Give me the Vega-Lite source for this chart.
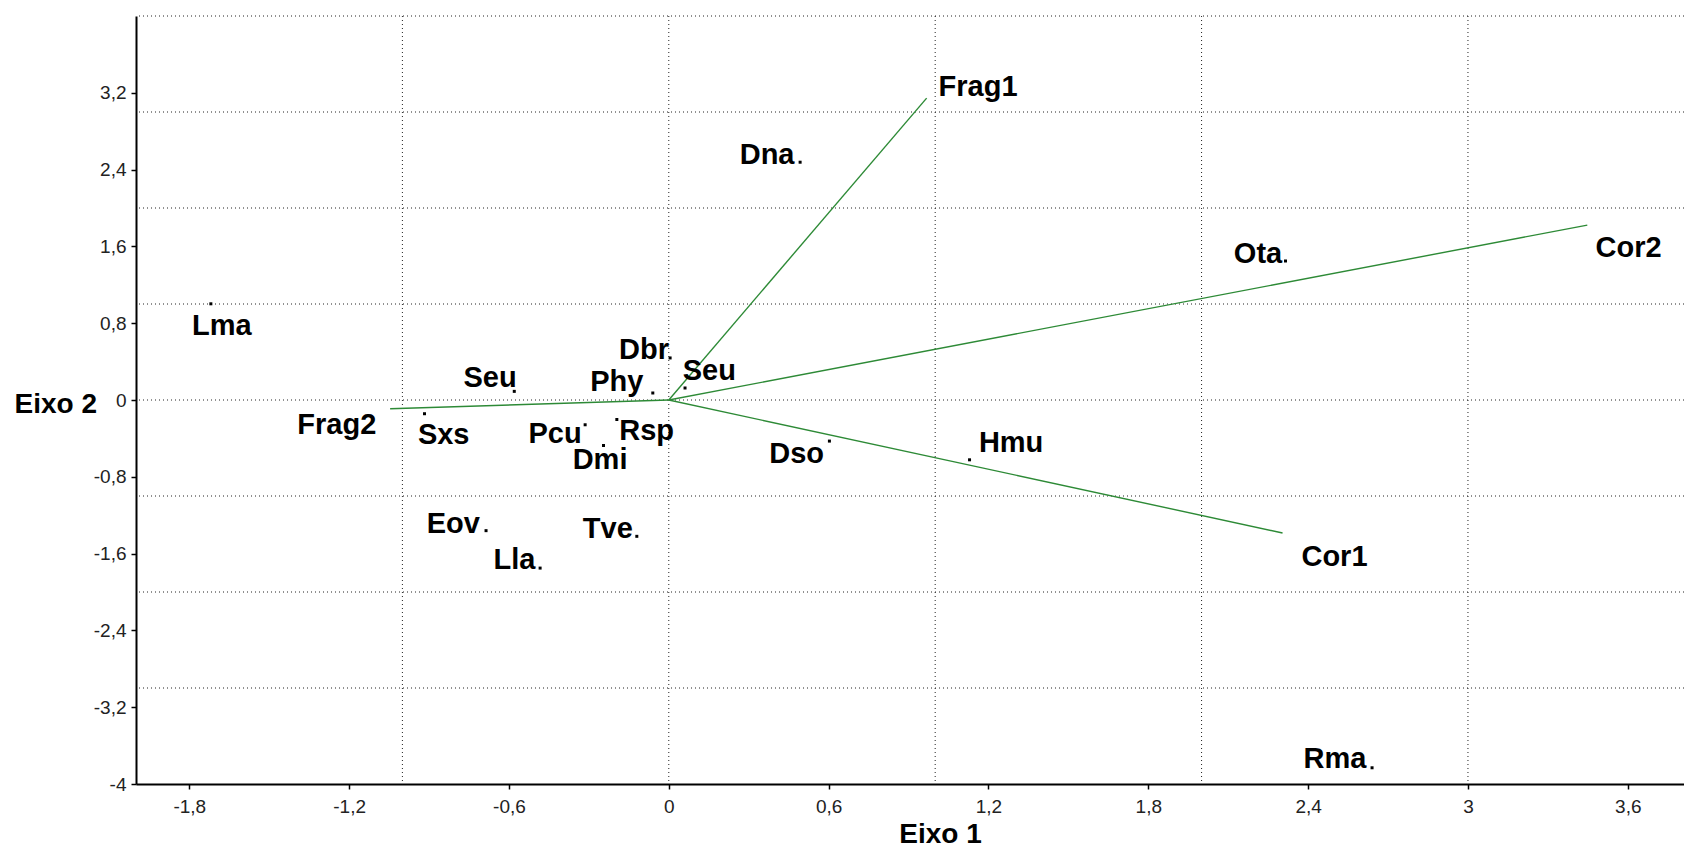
{
  "$schema": "https://vega.github.io/schema/vega-lite/v6.json",
  "width": 1548,
  "height": 768,
  "autosize": "none",
  "padding": {"left": 136, "top": 16, "right": 0, "bottom": 66},
  "background": "white",
  "config": {
    "view": {"stroke": null},
    "font": "Liberation Sans",
    "axisX": {
      "domainColor": "#000", "domainWidth": 2, "tickColor": "#000", "tickSize": 5, "tickWidth": 1.5,
      "labelFont": "Liberation Sans", "labelFontSize": 19, "labelColor": "#222", "labelPadding": 8,
      "labelFlush": false, "labelOverlap": false, "grid": false,
      "titleFont": "Liberation Sans", "titleFontSize": 28, "titleFontWeight": "bold", "titleColor": "#000",
      "titleX": 804, "titleY": 58, "titleAlign": "center", "titleBaseline": "alphabetic"
    },
    "axisY": {
      "domainColor": "#000", "domainWidth": 2, "tickColor": "#000", "tickSize": 5, "tickWidth": 1.5,
      "labelFont": "Liberation Sans", "labelFontSize": 19, "labelColor": "#222", "labelPadding": 5,
      "labelFlush": false, "labelOverlap": false, "grid": false,
      "titleFont": "Liberation Sans", "titleFontSize": 28, "titleFontWeight": "bold", "titleColor": "#000",
      "titleAngle": 0, "titleX": -122, "titleY": 396, "titleAlign": "left", "titleBaseline": "alphabetic"
    }
  },
  "datasets": {
    "grid_h": [{"y": -3}, {"y": -2}, {"y": -1}, {"y": 0}, {"y": 1}, {"y": 2}, {"y": 3}, {"y": 4}],
    "grid_v": [{"x": -1}, {"x": 0}, {"x": 1}, {"x": 2}, {"x": 3}],
    "vectors": [
      {"name": "Frag1", "x0": 0, "y0": 0, "x": 0.968, "y": 3.145, "lx": 1.161, "ly": 3.284},
      {"name": "Frag2", "x0": 0, "y0": 0, "x": -1.046, "y": -0.091, "lx": -1.246, "ly": -0.237},
      {"name": "Cor1", "x0": 0, "y0": 0, "x": 2.304, "y": -1.385, "lx": 2.499, "ly": -1.613},
      {"name": "Cor2", "x0": 0, "y0": 0, "x": 3.448, "y": 1.822, "lx": 3.603, "ly": 1.605}
    ],
    "species": [
      {"name": "Lma", "x": -1.719, "y": 1.002, "lx": -1.678, "ly": 0.796},
      {"name": "Seu", "x": -0.580, "y": 0.090, "lx": -0.671, "ly": 0.251},
      {"name": "Sxs", "x": -0.917, "y": -0.143, "lx": -0.845, "ly": -0.341},
      {"name": "Pcu", "x": -0.314, "y": -0.258, "lx": -0.427, "ly": -0.334},
      {"name": "Rsp", "x": -0.195, "y": -0.203, "lx": -0.083, "ly": -0.307},
      {"name": "Dmi", "x": -0.245, "y": -0.474, "lx": -0.258, "ly": -0.605},
      {"name": "Phy", "x": -0.060, "y": 0.073, "lx": -0.195, "ly": 0.205},
      {"name": "Dbr", "x": 0.005, "y": 0.438, "lx": -0.093, "ly": 0.543},
      {"name": "Seu", "x": 0.061, "y": 0.125, "lx": 0.152, "ly": 0.319},
      {"name": "Eov", "x": -0.686, "y": -1.361, "lx": -0.809, "ly": -1.273},
      {"name": "Tve", "x": -0.120, "y": -1.420, "lx": -0.229, "ly": -1.319},
      {"name": "Lla", "x": -0.483, "y": -1.751, "lx": -0.579, "ly": -1.651},
      {"name": "Dna", "x": 0.493, "y": 2.477, "lx": 0.369, "ly": 2.578},
      {"name": "Ota", "x": 2.315, "y": 1.448, "lx": 2.212, "ly": 1.537},
      {"name": "Dso", "x": 0.603, "y": -0.428, "lx": 0.480, "ly": -0.537},
      {"name": "Hmu", "x": 1.129, "y": -0.623, "lx": 1.285, "ly": -0.432},
      {"name": "Rma", "x": 2.640, "y": -3.831, "lx": 2.501, "ly": -3.723}
    ]
  },
  "layer": [
    {
      "data": {"name": "grid_h"},
      "mark": {"type": "rule", "color": "#222", "strokeWidth": 1, "strokeDash": [1, 3]},
      "encoding": {
        "y": {"field": "y", "type": "quantitative",
          "scale": {"domain": [-4, 4], "nice": false, "zero": false},
          "axis": {"title": "Eixo 2", "values": [-4, -3.2, -2.4, -1.6, -0.8, 0, 0.8, 1.6, 2.4, 3.2], "labelExpr": "replace(datum.value + '', '.', ',')"}}
      }
    },
    {
      "data": {"name": "grid_v"},
      "mark": {"type": "rule", "color": "#222", "strokeWidth": 1, "strokeDash": [1, 3]},
      "encoding": {
        "x": {"field": "x", "type": "quantitative",
          "scale": {"domain": [-2, 3.811], "nice": false, "zero": false},
          "axis": {"title": "Eixo 1", "values": [-1.8, -1.2, -0.6, 0, 0.6, 1.2, 1.8, 2.4, 3, 3.6], "labelExpr": "replace(datum.value + '', '.', ',')"}}
      }
    },
    {
      "data": {"name": "vectors"},
      "mark": {"type": "rule", "color": "#2d8a36", "strokeWidth": 1.4},
      "encoding": {
        "x": {"field": "x0", "type": "quantitative",
          "scale": {"domain": [-2, 3.811], "nice": false, "zero": false},
          "axis": {"title": "Eixo 1", "values": [-1.8, -1.2, -0.6, 0, 0.6, 1.2, 1.8, 2.4, 3, 3.6], "labelExpr": "replace(datum.value + '', '.', ',')"}},
        "y": {"field": "y0", "type": "quantitative",
          "scale": {"domain": [-4, 4], "nice": false, "zero": false},
          "axis": {"title": "Eixo 2", "values": [-4, -3.2, -2.4, -1.6, -0.8, 0, 0.8, 1.6, 2.4, 3.2], "labelExpr": "replace(datum.value + '', '.', ',')"}},
        "x2": {"field": "x"},
        "y2": {"field": "y"}
      }
    },
    {
      "data": {"name": "species"},
      "mark": {"type": "point", "shape": "square", "filled": true, "size": 9, "color": "#000", "opacity": 1},
      "encoding": {
        "x": {"field": "x", "type": "quantitative",
          "scale": {"domain": [-2, 3.811], "nice": false, "zero": false},
          "axis": {"title": "Eixo 1", "values": [-1.8, -1.2, -0.6, 0, 0.6, 1.2, 1.8, 2.4, 3, 3.6], "labelExpr": "replace(datum.value + '', '.', ',')"}},
        "y": {"field": "y", "type": "quantitative",
          "scale": {"domain": [-4, 4], "nice": false, "zero": false},
          "axis": {"title": "Eixo 2", "values": [-4, -3.2, -2.4, -1.6, -0.8, 0, 0.8, 1.6, 2.4, 3.2], "labelExpr": "replace(datum.value + '', '.', ',')"}}
      }
    },
    {
      "data": {"name": "species"},
      "mark": {"type": "text", "font": "Liberation Sans", "fontSize": 29, "fontWeight": "bold", "color": "#000", "align": "center", "baseline": "middle", "dy": 2},
      "encoding": {
        "x": {"field": "lx", "type": "quantitative",
          "scale": {"domain": [-2, 3.811], "nice": false, "zero": false},
          "axis": {"title": "Eixo 1", "values": [-1.8, -1.2, -0.6, 0, 0.6, 1.2, 1.8, 2.4, 3, 3.6], "labelExpr": "replace(datum.value + '', '.', ',')"}},
        "y": {"field": "ly", "type": "quantitative",
          "scale": {"domain": [-4, 4], "nice": false, "zero": false},
          "axis": {"title": "Eixo 2", "values": [-4, -3.2, -2.4, -1.6, -0.8, 0, 0.8, 1.6, 2.4, 3.2], "labelExpr": "replace(datum.value + '', '.', ',')"}},
        "text": {"field": "name"}
      }
    },
    {
      "data": {"name": "vectors"},
      "mark": {"type": "text", "font": "Liberation Sans", "fontSize": 29, "fontWeight": "bold", "color": "#000", "align": "center", "baseline": "middle", "dy": 2},
      "encoding": {
        "x": {"field": "lx", "type": "quantitative",
          "scale": {"domain": [-2, 3.811], "nice": false, "zero": false},
          "axis": {"title": "Eixo 1", "values": [-1.8, -1.2, -0.6, 0, 0.6, 1.2, 1.8, 2.4, 3, 3.6], "labelExpr": "replace(datum.value + '', '.', ',')"}},
        "y": {"field": "ly", "type": "quantitative",
          "scale": {"domain": [-4, 4], "nice": false, "zero": false},
          "axis": {"title": "Eixo 2", "values": [-4, -3.2, -2.4, -1.6, -0.8, 0, 0.8, 1.6, 2.4, 3.2], "labelExpr": "replace(datum.value + '', '.', ',')"}},
        "text": {"field": "name"}
      }
    }
  ]
}
